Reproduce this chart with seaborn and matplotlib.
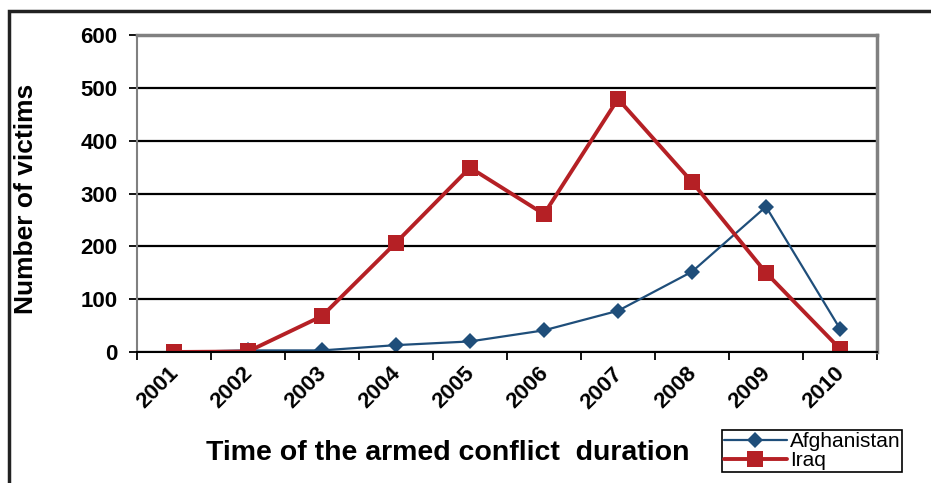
import matplotlib
matplotlib.use('Agg')
import matplotlib.pyplot as plt
import matplotlib.transforms as mtrans
from matplotlib.patches import Rectangle
import numpy as np
import pandas as pd
import seaborn as sns

years = ['2001', '2002', '2003', '2004', '2005', '2006', '2007', '2008', '2009', '2010']
afghanistan = [0, 3, 3, 13, 20, 41, 78, 152, 275, 44]
iraq = [0, 1, 68, 207, 349, 261, 479, 322, 150, 6]

df = pd.DataFrame({'year': years, 'Afghanistan': afghanistan, 'Iraq': iraq})

sns.set_style('white')
plt.rcParams['font.family'] = ['Liberation Sans', 'DejaVu Sans']
plt.rcParams['text.color'] = 'black'
plt.rcParams['axes.labelcolor'] = 'black'
plt.rcParams['xtick.color'] = 'black'
plt.rcParams['ytick.color'] = 'black'

fig = plt.figure(figsize=(9.31, 4.83), dpi=100)
ax = fig.add_axes([137/931, 1 - 352/483, 740/931, 317/483])

# Afghanistan first so Iraq sits on top
sns.lineplot(data=df, x='year', y='Afghanistan', ax=ax, color='#1F4E7A', lw=1.6,
             marker='D', markersize=8, markeredgewidth=0, label='Afghanistan', sort=False)
sns.lineplot(data=df, x='year', y='Iraq', ax=ax, color='#B52025', lw=2.8,
             marker='s', markersize=11, markeredgewidth=0, label='Iraq', sort=False)

ax.set_xlim(-0.5, len(years) - 0.5)
ax.set_ylim(0, 600)
ax.set_yticks(range(0, 601, 100))
ax.yaxis.grid(True, color='black', lw=1.6)
ax.xaxis.grid(False)
ax.set_axisbelow(True)

# category labels in the middle, tick marks on the boundaries
ax.set_xticks(range(len(years)))
ax.set_xticklabels(years)
ax.set_xticks(np.arange(-0.5, len(years), 1), minor=True)
ax.tick_params(axis='x', which='major', length=0, pad=8, labelsize=16)
ax.tick_params(axis='x', which='minor', length=6, width=1.3, color='black', direction='out', bottom=True)
ax.tick_params(axis='y', length=6, width=1.3, color='black', direction='out', left=True, pad=8, labelsize=16)

shift = mtrans.ScaledTranslation(9/100, 0, fig.dpi_scale_trans)
for lab in ax.get_xticklabels():
    lab.set_rotation(45)
    lab.set_ha('right')
    lab.set_fontweight('bold')
    lab.set_transform(lab.get_transform() + shift)
for lab in ax.get_yticklabels():
    lab.set_fontweight('bold')

for side in ['left', 'top', 'right']:
    ax.spines[side].set_color('#808080')
ax.spines['left'].set_linewidth(1.5)
ax.spines['top'].set_linewidth(2.5)
ax.spines['right'].set_linewidth(2.5)
ax.spines['bottom'].set_color('black')
ax.spines['bottom'].set_linewidth(1.5)

ax.set_ylabel('Number of victims', fontsize=19, fontweight='bold')
ax.yaxis.set_label_coords(-0.134, 0.483)
ax.set_xlabel('Time of the armed conflict  duration', fontsize=20.5, fontweight='bold')
ax.xaxis.set_label_coords(0.42, -0.32)
ax.xaxis.label.set_va('center')

leg = ax.legend(loc='upper left', bbox_to_anchor=(722/931, 1 - 430/483),
                bbox_transform=fig.transFigure, frameon=True, fancybox=False,
                edgecolor='black', framealpha=1, fontsize=15, handlelength=3.0,
                labelspacing=0.0, borderpad=0.1, borderaxespad=0, handletextpad=0.15)
leg.get_frame().set_linewidth(1.2)

# outer chart frame
fig.patches.append(Rectangle((9/931, -0.05), 1.0, 1.05 - 11/483, transform=fig.transFigure,
                             fill=False, ec='#222222', lw=2.5))

fig.savefig('out.png', dpi=100)
